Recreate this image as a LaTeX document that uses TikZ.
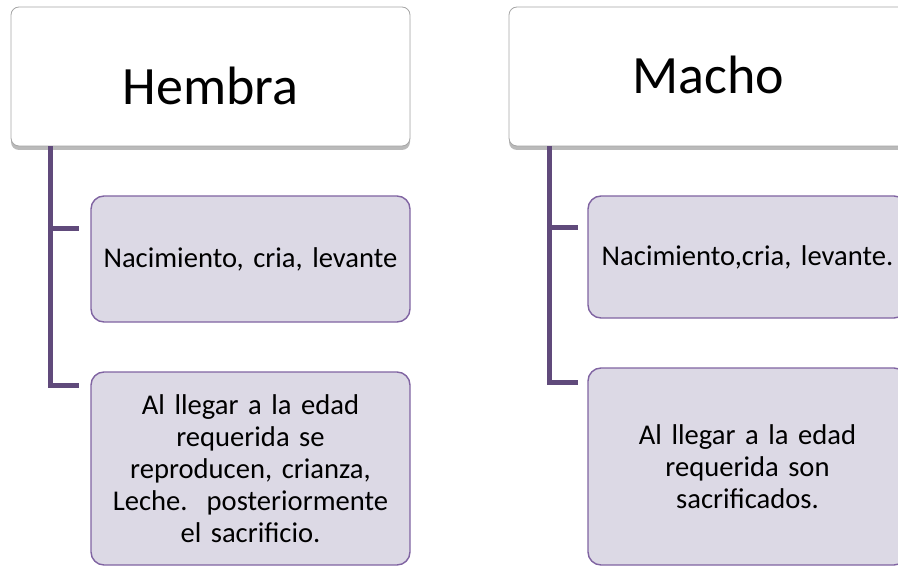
\documentclass[tikz,border=0pt]{standalone}
\usepackage{fontspec}
\setmainfont{Carlito}
\usepackage{tikz}
\usetikzlibrary{calc,shadows}
\definecolor{T}{RGB}{96,74,123}
\definecolor{B}{RGB}{128,100,162}
\definecolor{L}{RGB}{220,217,229}
\definecolor{G}{RGB}{166,166,166}
\tikzset{
  topbox/.style={draw=G, line width=0.8pt, fill=white, rounded corners=8pt,
    minimum width=399pt, minimum height=139pt, inner sep=0pt,
    drop shadow={shadow xshift=0pt, shadow yshift=-4pt, opacity=0.45, fill=black!60},
    font=\fontsize{54}{60}\selectfont, text depth=0pt},
  kidbox/.style={draw=B, line width=1.4pt, fill=L, rounded corners=13pt,
    minimum width=319pt, inner sep=0pt, align=center, text width=314pt,
    font=\fontsize{28.6}{32}\selectfont},
  trunk/.style={draw=T, line width=5.5pt}
}
\begin{document}
\begin{tikzpicture}[x=1pt,y=-1pt]
\useasboundingbox (0,0) rectangle (898,567);
\clip (0,0) rectangle (898,567);
% Hembra
\node[topbox, text height=57pt] (hembra) at (210.5,76.5) {Hembra};
\node[kidbox, minimum height=126pt] (hNac) at (250.5,259) {Nacimiento, cria, levante};
\node[kidbox, minimum height=193pt] (hLeche) at (250.5,468.5) {Al llegar a la edad\\ requerida se\\ reproducen, crianza,\\ Leche.\ \ posteriormente\\ el sacrificio.};
\coordinate (hTop) at ($(hembra.south west)+(40,0)$);
\coordinate (hStubA) at ($(hNac.north west)+(-11,33)$);
\coordinate (hStubB) at ($(hLeche.north west)+(-11,14)$);
\draw[trunk] (hTop) |- (hStubB);
\draw[trunk] (hTop |- hStubA) -- (hStubA);
% Macho
\node[topbox, text height=34pt] (macho) at (708.5,76.5) {Macho};
\node[kidbox, minimum height=122pt] (mNac) at (747.5,257) {Nacimiento,cria, levante.};
\node[kidbox, minimum height=197pt] (mSac) at (747.5,466.5) {Al llegar a la edad\\ requerida son\\ sacrificados.};
\coordinate (mTop) at ($(macho.south west)+(41,0)$);
\coordinate (mStubA) at ($(mNac.north west)+(-9,32)$);
\coordinate (mStubB) at ($(mSac.north west)+(-9,15)$);
\draw[trunk] (mTop) |- (mStubB);
\draw[trunk] (mTop |- mStubA) -- (mStubA);
\end{tikzpicture}
\end{document}
